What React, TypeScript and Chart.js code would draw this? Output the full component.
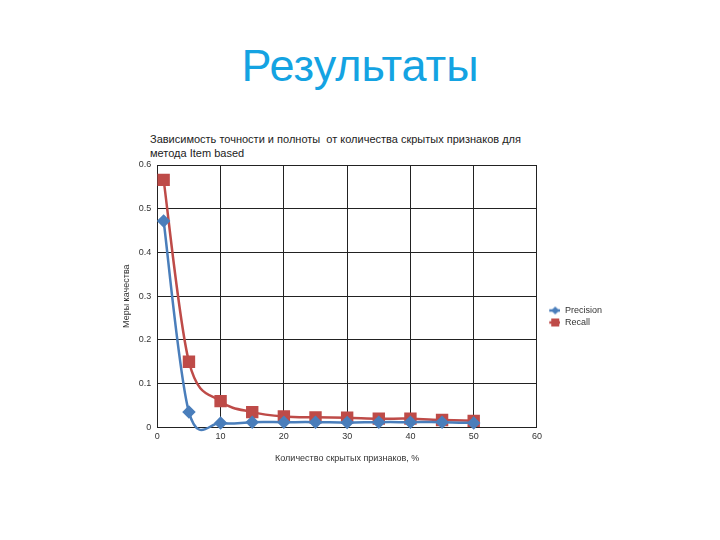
import React, { useEffect, useRef } from "react";
import { Chart, registerables } from "chart.js";

Chart.register(...registerables);

const slideTitle = "Результаты";
const chartTitleLines = [
  "Зависимость точности и полноты  от количества скрытых признаков для",
  "метода Item based",
];
const xAxisTitle = "Количество скрытых признаков, %";
const yAxisTitle = "Меры качества";
const xValues = [1, 5, 10, 15, 20, 25, 30, 35, 40, 45, 50];
const precision = [0.472, 0.035, 0.01, 0.012, 0.012, 0.012, 0.011, 0.012, 0.012, 0.012, 0.01];
const recall = [0.566, 0.15, 0.06, 0.035, 0.025, 0.023, 0.022, 0.02, 0.02, 0.017, 0.015];
const seriesNames = ["Precision", "Recall"];

const BLUE = "#4A7EBB";
const RED = "#BE4B48";

function legendIcon(color: string, kind: "diamond" | "square") {
  const c = document.createElement("canvas");
  c.width = 20;
  c.height = 10;
  const g = c.getContext("2d")!;
  g.strokeStyle = color;
  g.lineWidth = 2.5;
  g.beginPath();
  g.moveTo(9, 5);
  g.lineTo(20, 5);
  g.stroke();
  g.fillStyle = color;
  g.beginPath();
  if (kind === "diamond") {
    g.moveTo(15, 1);
    g.lineTo(19, 5);
    g.lineTo(15, 9);
    g.lineTo(11, 5);
    g.closePath();
  } else {
    g.rect(11, 1, 8, 8);
  }
  g.fill();
  return c;
}

// Excel-style smoothing (Catmull-Rom, 1/6 of neighbour difference)
const excelSmooth = {
  id: "excelSmooth",
  beforeDatasetDraw(chart: any, args: any) {
    const meta = args.meta;
    const line = meta.dataset;
    if (!line) return;
    if (line.updateControlPoints) line.updateControlPoints(chart.chartArea, meta.indexAxis);
    const pts = meta.data;
    const n = pts.length;
    for (let i = 0; i < n; i++) {
      const p = pts[i];
      const prev = pts[Math.max(0, i - 1)];
      const next = pts[Math.min(n - 1, i + 1)];
      const dx = (next.x - prev.x) / 6;
      const dy = (next.y - prev.y) / 6;
      p.cp1x = p.x - dx;
      p.cp1y = p.y - dy;
      p.cp2x = p.x + dx;
      p.cp2y = p.y + dy;
    }
  },
};

export default function App() {
  const ref = useRef<HTMLCanvasElement | null>(null);
  useEffect(() => {
    if (!ref.current) return;
    const icons = [legendIcon(BLUE, "diamond"), legendIcon(RED, "square")];
    const chart = new Chart(ref.current, {
      type: "line",
      data: {
        datasets: [
          {
            label: seriesNames[0],
            data: xValues.map((x, i) => ({ x, y: precision[i] })),
            borderColor: BLUE,
            backgroundColor: BLUE,
            borderWidth: 2.5,
            pointStyle: "rectRot",
            pointRadius: 5,
            tension: 0.4,
            clip: false as any,
          },
          {
            label: seriesNames[1],
            data: xValues.map((x, i) => ({ x, y: recall[i] })),
            borderColor: RED,
            backgroundColor: RED,
            borderWidth: 2.5,
            pointStyle: "rect",
            pointRadius: 7,
            tension: 0.4,
            clip: false as any,
          },
        ],
      },
      options: {
        animation: false,
        responsive: false,
        elements: { line: { capBezierPoints: false } },
        layout: { padding: { left: 120, top: 165, right: 108, bottom: 72 } },
        plugins: {
          title: { display: false },
          tooltip: { enabled: false },
          legend: {
            position: "right",
            labels: {
              usePointStyle: true,
              pointStyleWidth: 20.5,
              boxHeight: 10,
              padding: 3,
              color: "#333",
              font: { family: "Liberation Sans", size: 9 },
              generateLabels: (ch: any) =>
                ch.data.datasets.map((d: any, i: number) => ({
                  text: d.label,
                  pointStyle: icons[i],
                  fillStyle: d.borderColor,
                  strokeStyle: d.borderColor,
                  lineWidth: 0,
                  datasetIndex: i,
                  fontColor: "#333",
                })),
            },
          },
        },
        scales: {
          x: {
            type: "linear",
            min: 0,
            max: 60,
            ticks: { stepSize: 10, color: "#333", font: { family: "Liberation Sans", size: 9 }, padding: 4 },
            grid: { color: "#222", lineWidth: 1, drawTicks: false },
            border: { color: "#222" },
            title: { display: true, text: xAxisTitle, color: "#333", font: { family: "Liberation Sans", size: 9 }, padding: { top: 7 } },
          },
          y: {
            min: 0,
            max: 0.6,
            ticks: { stepSize: 0.1, color: "#333", font: { family: "Liberation Sans", size: 9 }, padding: 6 },
            grid: { color: "#222", lineWidth: 1, drawTicks: false },
            border: { color: "#222" },
            title: { display: true, text: yAxisTitle, color: "#333", font: { family: "Liberation Sans", size: 9 }, padding: 1 },
          },
        },
      },
      plugins: [excelSmooth],
    });
    return () => chart.destroy();
  }, []);
  return (
    <div style={{ position: "absolute", left: 0, top: 0, width: 720, height: 540, background: "#fff" }}>
      <div
        style={{
          position: "absolute",
          left: 0,
          width: 720,
          top: 38,
          textAlign: "center",
          fontFamily: "Liberation Sans, Arial, sans-serif",
          fontSize: 45,
          color: "#14A3E2",
          lineHeight: "56px",
        }}
      >
        {slideTitle}
      </div>
      <div
        style={{
          position: "absolute",
          left: 150,
          top: 132,
          fontFamily: "Liberation Sans, Arial, sans-serif",
          fontSize: 11,
          lineHeight: "14px",
          color: "#222",
          whiteSpace: "pre",
        }}
      >
        {chartTitleLines.map((l, i) => (
          <div key={i}>{l}</div>
        ))}
      </div>
      <canvas ref={ref} width={720} height={540} style={{ position: "absolute", left: 0, top: 0 }} />
    </div>
  );
}
